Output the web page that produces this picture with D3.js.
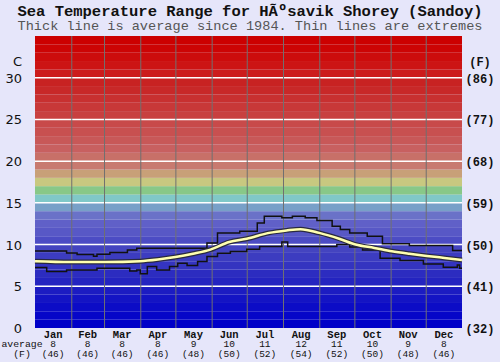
<!DOCTYPE html>
<html><head><meta charset="utf-8">
<script src="https://cdn.jsdelivr.net/npm/d3@7"></script>
<style>body{margin:0;background:#e6e6fa;} svg{display:block;}</style>
</head><body>
<svg id="c" width="500" height="362"></svg>
<script>
const title = "Sea Temperature Range for HÃºsavik Shorey (Sandoy)";
const subtitle = "Thick line is average since 1984. Thin lines are extremes";
const months = ["Jan","Feb","Mar","Apr","May","Jun","Jul","Aug","Sep","Oct","Nov","Dec"];
const monthDays = [31,28,31,30,31,30,31,31,30,31,30,31];
const avgC = [8,8,8,8,9,10,11,12,11,10,9,8];
const avgF = [46,46,46,46,48,50,52,54,52,50,48,46];
const cTicks = [0,5,10,15,20,25,30];
const fTicks = ["(32)","(41)","(50)","(59)","(68)","(77)","(86)"];
// one colour per degree band, from 0-1 C up to 34-35 C
const bandColors = [
 "#0000c8","#0606c8","#0c0cc6","#1414c4","#1c1cc2","#2424c0","#2c2cc0","#3434c0","#3c3cc0","#4444c0",
 "#4c4cc4","#5858c6","#6060c8","#6a72c8","#78a0c8","#80c8c8","#88c888","#c8c880","#c8a078","#c87a70",
 "#c87068","#c86060","#c85858","#c85050","#c84a4a","#c84040","#c83838","#c83030","#c82828","#c82222",
 "#cc1c1c","#cc1414","#cc0c0c","#cc0404","#cc0000"];
// day-of-year, temperature (C)
const avgDay  = [0,30,60,90,105,120,135,150,166,181,200,215,227,243,260,274,290,305,320,335,350,365];
const avgTemp = [8.0,7.9,7.9,8.0,8.2,8.5,8.9,9.4,10.3,10.7,11.4,11.7,11.85,11.4,10.7,10.0,9.6,9.2,8.9,8.64,8.4,8.16];
const maxDay  = [0,27,36,50,53,64,79,87,147,156,175,190,196,211,220,231,241,254,261,269,284,297,320,357,365];
const maxTemp = [9.24,9.0,8.8,8.6,8.85,9.04,9.36,9.56,10.2,11.4,11.6,12.6,13.4,13.2,13.4,13.2,12.9,12.2,11.8,11.4,11.0,10.1,9.9,9.3,9.3];
const minDay  = [0,10,27,53,81,87,90,96,104,115,122,130,139,147,156,167,181,192,211,216,258,269,280,295,312,332,349,361,363,365];
const minTemp = [7.24,6.76,6.96,7.16,6.84,6.96,6.5,7.36,6.96,7.36,7.77,7.48,7.96,8.56,8.96,9.16,9.44,9.76,10.3,9.76,10.0,9.7,9.36,8.36,8.08,7.68,7.28,7.56,7.16,7.16];

const svg = d3.select("#c");
const L = 35, R = 462, T = 36, B = 328;
const x = d3.scaleLinear().domain([0,365]).range([L,R]);
const y = d3.scaleLinear().domain([0,35]).range([B,T]);

svg.append("rect").attr("width",500).attr("height",362).attr("fill","#e6e6fa");

// bands
svg.append("g").selectAll("rect").data(bandColors).join("rect")
  .attr("x",L).attr("width",R-L)
  .attr("y",(d,i)=>y(i+1)).attr("height",(d,i)=>y(i)-y(i+1))
  .attr("fill",d=>d);

// white horizontal lines
svg.append("g").selectAll("line").data(cTicks.filter(d=>d>0)).join("line")
  .attr("x1",L).attr("x2",R).attr("y1",d=>y(d)).attr("y2",d=>y(d))
  .attr("stroke","#ffffff").attr("stroke-width",1.5);

// month boundaries
const cum = d3.cumsum(monthDays);
const starts = [0, ...cum.slice(0,11)];
svg.append("g").selectAll("line").data(cum.slice(0,11)).join("line")
  .attr("x1",d=>x(d)+0.5).attr("x2",d=>x(d)+0.5).attr("y1",T).attr("y2",B)
  .attr("stroke","#707070").attr("stroke-width",1);

// lines
const mk = (days, temps) => days.map((d,i)=>[d,temps[i]]);
const stepLine = d3.line().x(d=>x(d[0])).y(d=>y(d[1])).curve(d3.curveStepAfter);
const smooth = d3.line().x(d=>x(d[0])).y(d=>y(d[1])).curve(d3.curveMonotoneX);
svg.append("path").attr("d",stepLine(mk(maxDay,maxTemp))).attr("fill","none").attr("stroke","#111").attr("stroke-width",1.5);
svg.append("path").attr("d",stepLine(mk(minDay,minTemp))).attr("fill","none").attr("stroke","#111").attr("stroke-width",1.5);
svg.append("path").attr("d",smooth(mk(avgDay,avgTemp))).attr("fill","none").attr("stroke","#2a2a40").attr("stroke-width",5);
svg.append("path").attr("d",smooth(mk(avgDay,avgTemp))).attr("fill","none").attr("stroke","#ffffb0").attr("stroke-width",2.5);

// titles
svg.append("text").attr("x",250).attr("y",15.5).attr("text-anchor","middle")
  .attr("font-family","Liberation Mono, monospace").attr("font-weight","bold").attr("font-size",15.5)
  .attr("fill","#111").text(title);
svg.append("text").attr("x",250).attr("y",30).attr("text-anchor","middle")
  .attr("font-family","Liberation Mono, monospace").attr("font-size",13.6)
  .attr("fill","#555").text(subtitle);

// left axis
const lf = "DejaVu Sans, sans-serif";
svg.append("text").attr("x",22).attr("y",66).attr("text-anchor","end").attr("font-family",lf)
  .attr("font-size",13).attr("fill","#111").text("C");
svg.append("g").selectAll("text").data(cTicks).join("text")
  .attr("x",22).attr("y",d=>y(d)+5).attr("text-anchor","end").attr("font-family",lf)
  .attr("font-size",13).attr("fill","#111").text(d=>d);

// right axis
const mf = "Liberation Mono, monospace";
svg.append("text").attr("x",480).attr("y",66).attr("text-anchor","middle").attr("font-family",mf)
  .attr("font-weight","bold").attr("font-size",12).attr("fill","#111").text("(F)");
svg.append("g").selectAll("text").data(fTicks).join("text")
  .attr("x",480).attr("y",(d,i)=>y(cTicks[i])+5).attr("text-anchor","middle").attr("font-family",mf)
  .attr("font-weight","bold").attr("font-size",12).attr("fill","#111").text(d=>d);

// bottom labels
const mid = i => x(starts[i] + monthDays[i]/2);
const bl = svg.append("g").attr("font-family",mf).attr("fill","#111").attr("text-anchor","middle");
bl.selectAll("text.m").data(months).join("text").attr("class","m")
  .attr("x",(d,i)=>mid(i)).attr("y",337.5).attr("font-weight","bold").attr("font-size",10.5).text(d=>d);
bl.selectAll("text.a").data(avgC).join("text").attr("class","a")
  .attr("x",(d,i)=>mid(i)).attr("y",347).attr("font-size",9.5).text(d=>d);
bl.selectAll("text.f").data(avgF).join("text").attr("class","f")
  .attr("x",(d,i)=>mid(i)).attr("y",356.5).attr("font-size",9.5).text(d=>"("+d+")");
bl.append("text").attr("x",22).attr("y",347).attr("font-size",9.8).text("average");
bl.append("text").attr("x",22).attr("y",356.5).attr("font-size",9.8).text("(F)");
</script>
</body></html>
